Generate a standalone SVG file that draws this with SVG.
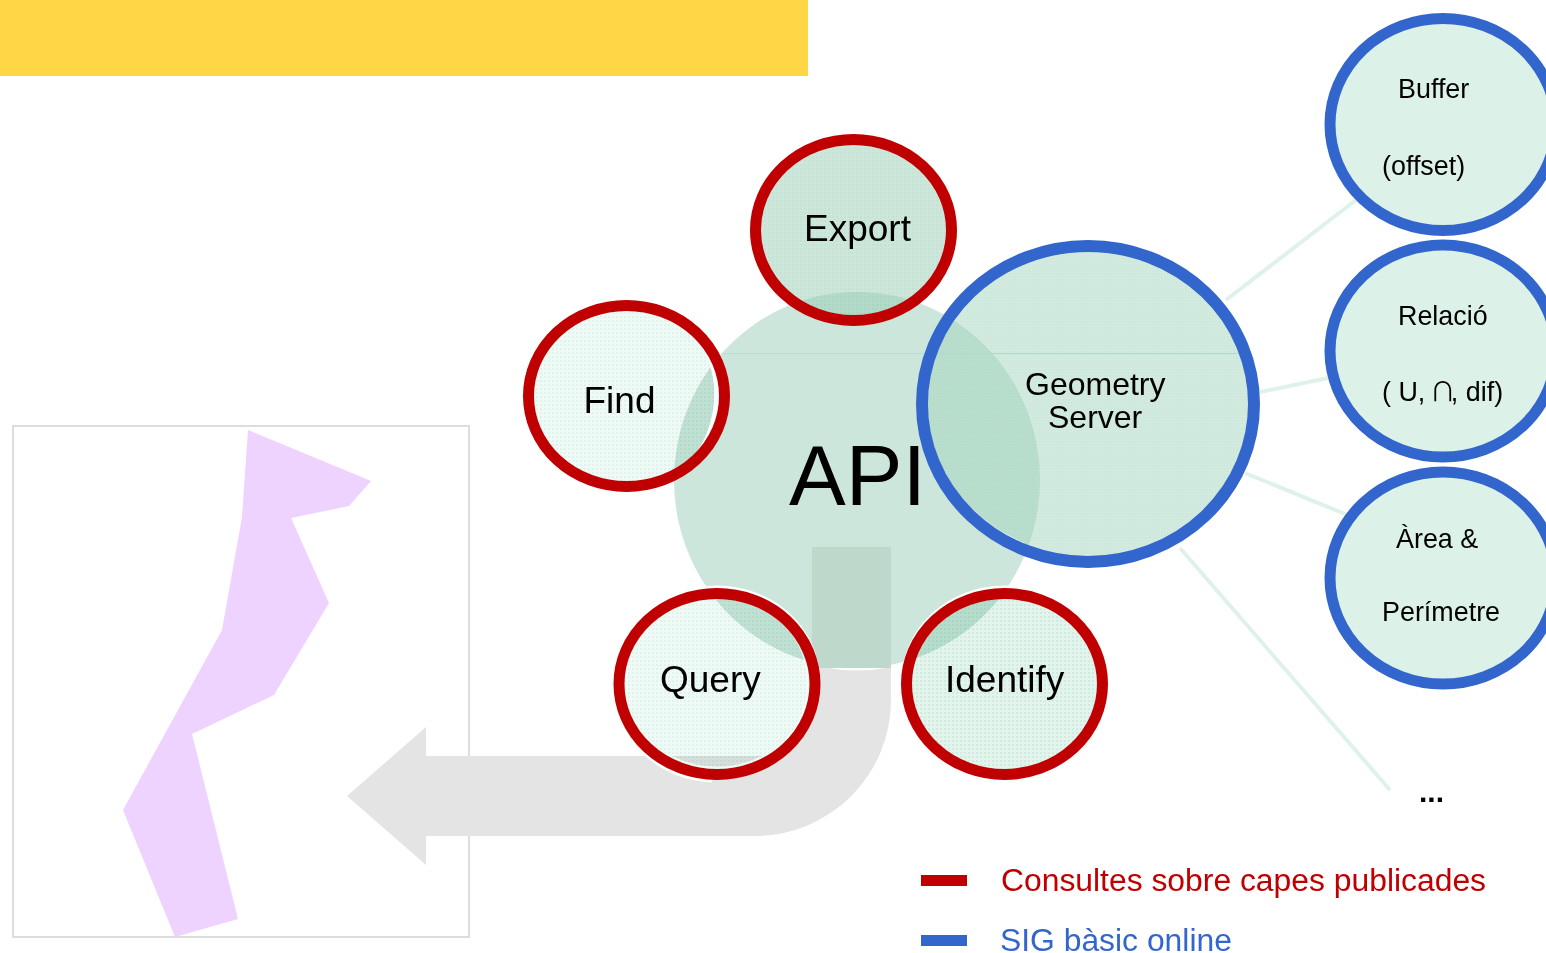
<svg xmlns="http://www.w3.org/2000/svg" width="1546" height="953" viewBox="0 0 1546 953">
<style>
text{font-family:"Liberation Sans",Arial,sans-serif;fill:#000}
.m{font-size:37px}.g{font-size:32px}.s{font-size:26.900px}
.ov{fill:none;stroke:#c00000;stroke-width:11}
.ob{fill:none;stroke:#3366cc;stroke-width:12}
.sat{fill:#dcf1e8;stroke:#3366cc;stroke-width:11}
.c{stroke:#dff2ea;stroke-width:4;fill:none}
.blend{mix-blend-mode:multiply}
.halo{fill:none;stroke:#fff;stroke-width:10}
.gap{fill:#fff}
</style>
<defs>
<pattern id="pd" width="4" height="4" patternUnits="userSpaceOnUse"><rect width="4" height="4" fill="#94ccb2"/><rect width="2" height="2" fill="#86c2a6"/></pattern>
<pattern id="pl" width="4" height="4" patternUnits="userSpaceOnUse"><rect width="4" height="4" fill="#eff9f5"/><rect width="2" height="2" fill="#e0f3eb"/></pattern>
<pattern id="pm" width="4" height="4" patternUnits="userSpaceOnUse"><rect width="4" height="4" fill="#e3f4ed"/><rect width="2" height="2" fill="#d2ebe0"/></pattern>
<pattern id="pg" width="3" height="3" patternUnits="userSpaceOnUse"><rect width="3" height="3" fill="#a6d6bf"/><rect width="1.500" height="1.500" fill="#98cfb5"/></pattern>
</defs>
<rect id="banner" x="0" y="0" width="808" height="76" fill="#ffd645"/>
<g id="map">
<rect x="13" y="426" width="456" height="511" fill="#fff" stroke="#ddd" stroke-width="2"/>
<polygon points="248,430 371,481 349,506 291,518 329,603 274,695 192,734 238,919 175,937 123,810 222,630 242,517" fill="#eed2ff"/>
</g>
<g id="flow-arrow">
<path d="M891,660V700A136,136 0 0 1 755,836H426V865L347,796L426,727V756H755A57,57 0 0 0 812,699V660Z" fill="#e4e4e4"/>
</g>
<g id="connectors">
<line class="c" x1="1226" y1="300" x2="1356" y2="200"/>
<line class="c" x1="1260" y1="392" x2="1328" y2="378"/>
<line class="c" x1="1245" y1="473" x2="1345" y2="514"/>
<line class="c" x1="1180" y1="548" x2="1390" y2="790"/>
</g>
<g id="api">
<ellipse cx="857" cy="480" rx="183" ry="188" fill="#cde6dc" stroke="#fff" stroke-width="5" paint-order="stroke"/>
<rect x="812" y="547" width="79" height="121" fill="#bfd8cc"/>
<line x1="722" y1="353.500" x2="1238" y2="353.500" stroke="#bcdccf" stroke-width="1"/>
<text x="789" y="505" font-size="85">API</text>
</g>
<g id="export">
<ellipse cx="853.5" cy="230" rx="98" ry="90.500" fill="url(#pd)" opacity="0.48"/>
<ellipse class="ov" cx="853.5" cy="230" rx="98" ry="90.500"/>
<text class="m" x="804" y="241">Export</text>
</g>
<g id="find">
<ellipse class="blend" cx="626.5" cy="396" rx="98" ry="90.500" fill="url(#pl)"/>
<path class="gap" d="M702,345A94,86 0 0 1 694,456A105,105 0 0 0 702,345Z"/>
<ellipse class="ov" cx="626.5" cy="396" rx="98" ry="90.500"/>
<text class="m" x="583.500" y="413">Find</text>
</g>
<g id="query">
<ellipse class="halo" cx="717" cy="681" rx="98" ry="90.500"/>
<ellipse class="blend" cx="717" cy="684" rx="98" ry="90.500" fill="url(#pl)"/>
<path class="gap" d="M788,630A93,86 0 0 1 781,745A84,84 0 0 0 788,630Z"/>
<path d="M645,754A105,97.500 0 0 0 712,781" fill="none" stroke="#fff" stroke-width="3"/>
<ellipse class="ov" cx="717" cy="684" rx="98" ry="90.500"/>
<text class="m" x="660" y="692">Query</text>
</g>
<g id="identify">
<ellipse class="halo" cx="1004.500" cy="681" rx="98" ry="90.500"/>
<ellipse class="blend" cx="1004.500" cy="684" rx="98" ry="90.500" fill="url(#pm)"/>
<ellipse class="ov" cx="1004.500" cy="684" rx="98" ry="90.500"/>
<text class="m" x="945" y="692">Identify</text>
</g>
<g id="geometry-server">
<ellipse cx="1088" cy="404" rx="166" ry="158" fill="url(#pg)" opacity="0.5"/>
<path d="M928,385A160,152 0 0 0 1024,544" fill="none" stroke="#fff" stroke-width="2.500"/>
<ellipse class="ob" cx="1088" cy="404" rx="166" ry="158"/>
<text class="g" x="1025" y="395">Geometry</text>
<text class="g" x="1048" y="428">Server</text>
</g>
<g id="buffer">
<ellipse class="sat" cx="1443" cy="124.500" rx="113" ry="106"/>
<text class="s" x="1398" y="98">Buffer</text>
<text class="s" x="1382" y="175">(offset)</text>
</g>
<g id="relacio">
<ellipse class="sat" cx="1443" cy="351" rx="113" ry="106"/>
<text class="s" x="1398" y="325">Relació</text>
<text class="s" x="1382" y="401">( U, <tspan dx="-3" font-family="'Noto Sans CJK SC',sans-serif" font-size="26">∩</tspan><tspan dx="-5">, dif)</tspan></text>
</g>
<g id="area">
<ellipse class="sat" cx="1443" cy="578" rx="113" ry="106"/>
<text class="s" x="1396" y="548">Àrea &amp;</text>
<text class="s" x="1382" y="621">Perímetre</text>
</g>
<text id="more" x="1419" y="802" font-size="30" font-weight="bold">...</text>
<g id="legend">
<rect x="921" y="875" width="46" height="11" fill="#c00000"/>
<text x="1001" y="891" font-size="31.850" style="fill:#c00000">Consultes sobre capes publicades</text>
<rect x="921" y="935" width="46" height="11" fill="#3366cc"/>
<text x="1000" y="951" font-size="31.850" style="fill:#3366cc">SIG bàsic online</text>
</g>
</svg>
